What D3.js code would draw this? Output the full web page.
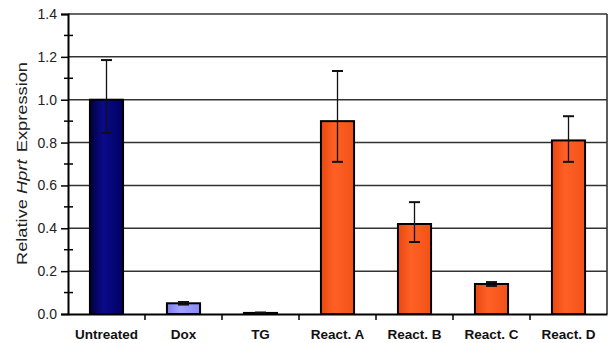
<!DOCTYPE html>
<html>
<head>
<meta charset="utf-8">
<script src="https://cdn.jsdelivr.net/npm/d3@7"></script>
<style>
  html, body { margin: 0; padding: 0; background: #fff; }
  svg { display: block; font-family: Arial, "Liberation Sans", Helvetica, sans-serif; }
</style>
</head>
<body>
<svg id="chart" width="610" height="343"></svg>
<script>
// Relative Hprt expression per treatment
const categories = ["Untreated", "Dox", "TG", "React. A", "React. B", "React. C", "React. D"];
const values     = [1.00, 0.05, 0.005, 0.90, 0.42, 0.14, 0.81];
const errUp      = [0.185, 0.006, 0.002, 0.234, 0.102, 0.009, 0.113];
const errDown    = [0.155, 0.006, 0.002, 0.190, 0.084, 0.009, 0.100];
const fillGroup  = ["navy", "lavender", "navy", "orange", "orange", "orange", "orange"];
const yTicks     = [0.0, 0.2, 0.4, 0.6, 0.8, 1.0, 1.2, 1.4];
const yMinor     = [0.1, 0.3, 0.5, 0.7, 0.9, 1.1, 1.3];

const svg = d3.select("#chart");
const margin = { left: 68, right: 3, top: 14, bottom: 29 };
const W = 610, H = 343;
const FONT = "Arial, 'Liberation Sans', sans-serif";

const x = d3.scaleBand()
  .domain(categories)
  .range([margin.left, W - margin.right])
  .paddingInner(0.57)
  .paddingOuter(0.285);

const xOuter = d3.scaleBand()
  .domain(categories)
  .range([margin.left, W - margin.right]);

const y = d3.scaleLinear()
  .domain([0, 1.4])
  .range([H - margin.bottom, margin.top]);

// Horizontal gradients for the bars
const defs = svg.append("defs");
const gradients = {
  navy:     ["#00003c", "#0a0a8c", "#000060"],
  lavender: ["#7c7cf0", "#a4a4ff", "#8a8af8"],
  orange:   ["#e84810", "#ff6026", "#f25218"]
};
Object.entries(gradients).forEach(([key, c]) => {
  const g = defs.append("linearGradient").attr("id", "grad-" + key)
    .attr("x1", "0%").attr("x2", "100%").attr("y1", "0%").attr("y2", "0%");
  g.append("stop").attr("offset", "0%").attr("stop-color", c[0]);
  g.append("stop").attr("offset", "40%").attr("stop-color", c[1]);
  g.append("stop").attr("offset", "100%").attr("stop-color", c[2]);
});

// Gridlines
svg.append("g")
  .selectAll("line")
  .data(yTicks.filter(d => d > 0))
  .join("line")
  .attr("x1", margin.left).attr("x2", W - margin.right)
  .attr("y1", d => y(d)).attr("y2", d => y(d))
  .attr("stroke", "#333").attr("stroke-width", 1.5);

// Right frame
svg.append("line")
  .attr("x1", W - margin.right).attr("x2", W - margin.right)
  .attr("y1", margin.top).attr("y2", y(0))
  .attr("stroke", "#333").attr("stroke-width", 1.6);

// Bars
svg.append("g")
  .selectAll("rect")
  .data(categories)
  .join("rect")
  .attr("x", d => x(d))
  .attr("width", x.bandwidth())
  .attr("y", (d, i) => y(values[i]))
  .attr("height", (d, i) => y(0) - y(values[i]))
  .attr("fill", (d, i) => `url(#grad-${fillGroup[i]})`)
  .attr("stroke", "#000")
  .attr("stroke-width", 2);

// Error bars
const eb = svg.append("g").attr("stroke", "#111").attr("stroke-width", 1.3);
categories.forEach((c, i) => {
  const cx = x(c) + x.bandwidth() / 2;
  const hi = y(values[i] + errUp[i]);
  const lo = y(values[i] - errDown[i]);
  const cap = 5.5;
  eb.append("line").attr("x1", cx).attr("x2", cx).attr("y1", hi).attr("y2", lo);
  eb.append("line").attr("x1", cx - cap).attr("x2", cx + cap).attr("y1", hi).attr("y2", hi).attr("stroke-width", 2);
  eb.append("line").attr("x1", cx - cap).attr("x2", cx + cap).attr("y1", lo).attr("y2", lo).attr("stroke-width", 2);
});

// Y axis
const yAxis = d3.axisLeft(y)
  .tickValues(yTicks)
  .tickFormat(d3.format(".1f"))
  .tickSize(7)
  .tickPadding(4);
const gy = svg.append("g")
  .attr("transform", `translate(${margin.left},0)`)
  .call(yAxis);
gy.select(".domain").attr("stroke", "#000").attr("stroke-width", 2);
gy.selectAll(".tick line").attr("x2", -7).attr("x1", 0).attr("stroke", "#000").attr("stroke-width", 1.5);
gy.selectAll(".tick text").attr("font-size", 14).attr("fill", "#222").attr("font-family", FONT);

// Minor ticks
svg.append("g").selectAll("line").data(yMinor).join("line")
  .attr("x1", margin.left - 4).attr("x2", margin.left + 5)
  .attr("y1", d => y(d)).attr("y2", d => y(d))
  .attr("stroke", "#000").attr("stroke-width", 1.5);

// X axis
const xAxis = d3.axisBottom(xOuter).tickSize(0).tickPadding(15);
const gx = svg.append("g")
  .attr("transform", `translate(0,${y(0)})`)
  .call(xAxis);
gx.select(".domain").attr("stroke", "#000").attr("stroke-width", 2);
gx.selectAll(".tick text")
  .attr("font-size", 13.5).attr("font-weight", "bold").attr("fill", "#111")
  .attr("font-family", FONT);

// Category separator ticks
svg.append("g").selectAll("line")
  .data(categories.slice(1))
  .join("line")
  .attr("x1", d => xOuter(d)).attr("x2", d => xOuter(d))
  .attr("y1", y(0)).attr("y2", y(0) + 6)
  .attr("stroke", "#000").attr("stroke-width", 1.5);

// Y axis title, stretched along its run
const title = svg.append("text")
  .attr("transform", `translate(27,163.5) rotate(-90)`)
  .attr("text-anchor", "middle")
  .attr("font-size", 15)
  .attr("fill", "#222")
  .attr("font-family", FONT)
  .attr("textLength", 203)
  .attr("lengthAdjust", "spacingAndGlyphs");
title.append("tspan").text("Relative ");
title.append("tspan").attr("font-style", "italic").text("Hprt");
title.append("tspan").attr("dx", 6).text("Expression");
</script>
</body>
</html>
